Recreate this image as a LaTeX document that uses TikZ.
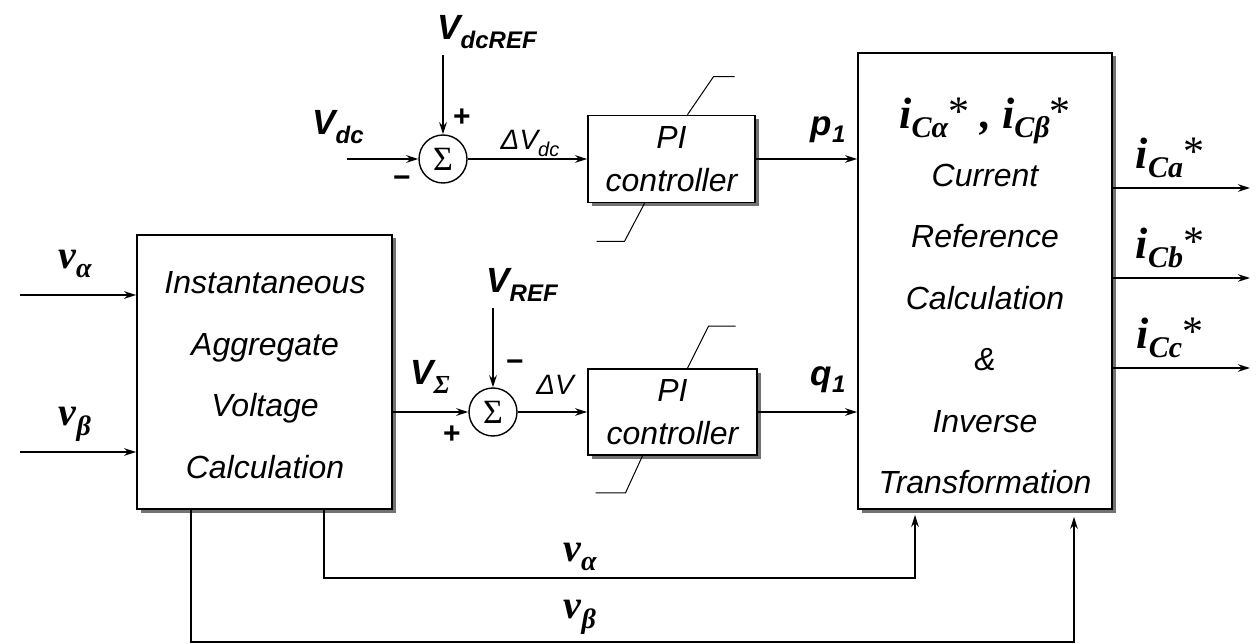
\documentclass[tikz,border=0pt]{standalone}
\usepackage{fontspec}
\setmainfont{Liberation Sans}
\newfontfamily\srf{Liberation Serif}
\usetikzlibrary{arrows.meta,calc,shadows}
\newcommand{\fsz}[2]{\fontsize{#1}{#2}\selectfont}
\newcommand{\lowsub}[3]{\raisebox{-#1}{\fsz{#2}{#2}#3}}
\newcommand{\thinstar}{\raisebox{3pt}{\fsz{42}{42}\mdseries\upshape *}}
\tikzset{
  box/.style={draw, line width=1.7pt, fill=white,
    drop shadow={shadow xshift=3.5pt, shadow yshift=-3.5pt, fill=black!55, opacity=1}},
  sumnode/.style={circle, draw, line width=1.4pt, minimum size=48pt, inner sep=0pt, fill=white,
    font=\srf\fsz{34}{34}},
  sig/.style={line width=2pt, -{Stealth[length=12pt,width=7.5pt]}},
  sat/.style={line width=1pt},
  boxtext/.style={font=\fsz{32}{61.5}\itshape, align=center, inner sep=0pt},
  lab/.style={font=\fsz{35}{35}\bfseries\itshape, inner sep=0pt},
  slab/.style={font=\srf\fsz{40}{40}\bfseries\itshape, inner sep=0pt},
  dlab/.style={font=\fsz{28}{28}\itshape, inner sep=0pt},
  sgn/.style={font=\fsz{30}{30}\bfseries, inner sep=0pt},
}
\begin{document}
\begin{tikzpicture}[x=1pt,y=-1pt]
\useasboundingbox (0,0) rectangle (1260,644);

% blocks
\node[box, minimum width=255pt, minimum height=274pt] (iavc) at (264.5,372) {};
\node[boxtext] (iavct) at (265,375) {Instantaneous\\Aggregate\\Voltage\\Calculation};

\node[box, minimum width=254pt, minimum height=456pt] (calc) at (985,281) {};
\node[boxtext] (calct) at (985,296)
  {{\srf\bfseries\fsz{44}{44}i\lowsub{9pt}{30}{Cα}\thinstar\ ,\ i\lowsub{9pt}{30}{Cβ}\thinstar}\\[-4pt]
   Current\\Reference\\Calculation\\\&\\Inverse\\Transformation};

\node[box, minimum width=167pt, minimum height=87pt, font=\fsz{32}{43}\itshape, align=center] (pi1) at (671.5,159) {PI\\controller};
\node[box, minimum width=169pt, minimum height=86pt, font=\fsz{32}{43}\itshape, align=center] (pi2) at (672.5,412) {PI\\controller};

% limiter marks
\draw[sat] ($(pi1.north)+(16,0)$) -- ++(26,-38) -- ++(21,0);
\draw[sat] ($(pi1.south)+(-27,0)$) -- ++(-20,38) -- ++(-28,0);
\draw[sat] ($(pi2.north)+(15,0)$) -- ++(21,-42) -- ++(27,0);
\draw[sat] ($(pi2.south)+(-30,0)$) -- ++(-17,37) -- ++(-30,0);

% summing junctions
\node[sumnode] (sum1) at (443,159) {Σ};
\node[sumnode] (sum2) at (493,412) {Σ};

% free ends
\coordinate (vdcin) at (347,159);
\coordinate (vdcref) at (443,55);
\coordinate (vrefin) at (493,308);
\coordinate (vain) at (20,295);
\coordinate (vbin) at (20,452);
\coordinate (oa) at (1250,188);
\coordinate (ob) at (1250,278);
\coordinate (oc) at (1250,368);

% signals
\draw[sig] (vdcin) -- (sum1);
\draw[sig] (vdcref) -- (sum1);
\draw[sig] (sum1) -- (pi1);
\draw[sig] (pi1.east) -- (calc.west |- pi1.east);
\draw[sig] (vain) -- (iavc.west |- vain);
\draw[sig] (vbin) -- (iavc.west |- vbin);
\draw[sig] (iavc.east |- sum2) -- (sum2);
\draw[sig] (vrefin) -- (sum2);
\draw[sig] (sum2) -- (pi2);
\draw[sig] (pi2.east) -- (calc.west |- pi2.east);
\draw[sig] (calc.east |- oa) -- (oa);
\draw[sig] (calc.east |- ob) -- (ob);
\draw[sig] (calc.east |- oc) -- (oc);
\draw[sig, shorten >=5pt] (324,0 |- iavc.south) -- (324,578) -- (915,578) -- (915,0 |- calc.south);
\draw[sig, shorten >=7pt] (191,0 |- iavc.south) -- (191,642) -- (1074,642) -- (1074,0 |- calc.south);

% labels
\node[lab] (lvdc) at (338,127) {V\lowsub{9pt}{24}{dc}};
\node[lab] (lvdcref) at (487,32) {V\lowsub{9pt}{24}{dcREF}};
\node[sgn] (p1s) at (462,118) {+};
\node[sgn] (m1s) at (402,182) {−};
\node[dlab] (ldv1) at (530,143) {ΔV\lowsub{7pt}{20}{dc}};
\node[lab] (lp1) at (828,130) {p\lowsub{7pt}{24}{1}};

\node[lab] (lvref) at (522,285) {V\lowsub{9pt}{24}{REF}};
\node[lab] (lvsig) at (430,377) {V\lowsub{9pt}{26}{\srf Σ}};
\node[sgn] (p2s) at (452,435) {+};
\node[sgn] (m2s) at (515,366) {−};
\node[dlab] (ldv2) at (555,385) {ΔV};
\node[lab] (lq1) at (828,380) {q\lowsub{7pt}{24}{1}};

\node[slab] (lva) at (75,264) {v\lowsub{9pt}{28}{α}};
\node[slab] (lvb) at (75,424) {v\lowsub{10pt}{28}{β}};
\node[slab] (lva2) at (580,557) {v\lowsub{9pt}{28}{α}};
\node[slab] (lvb2) at (580,617) {v\lowsub{10pt}{28}{β}};

\node[slab, font=\srf\fsz{44}{44}\bfseries\itshape] (lia) at (1170,158) {i\lowsub{9pt}{30}{Ca}\thinstar};
\node[slab, font=\srf\fsz{44}{44}\bfseries\itshape] (lib) at (1170,248) {i\lowsub{9pt}{30}{Cb}\thinstar};
\node[slab, font=\srf\fsz{44}{44}\bfseries\itshape] (lic) at (1170,338) {i\lowsub{9pt}{30}{Cc}\thinstar};
\end{tikzpicture}
\end{document}
